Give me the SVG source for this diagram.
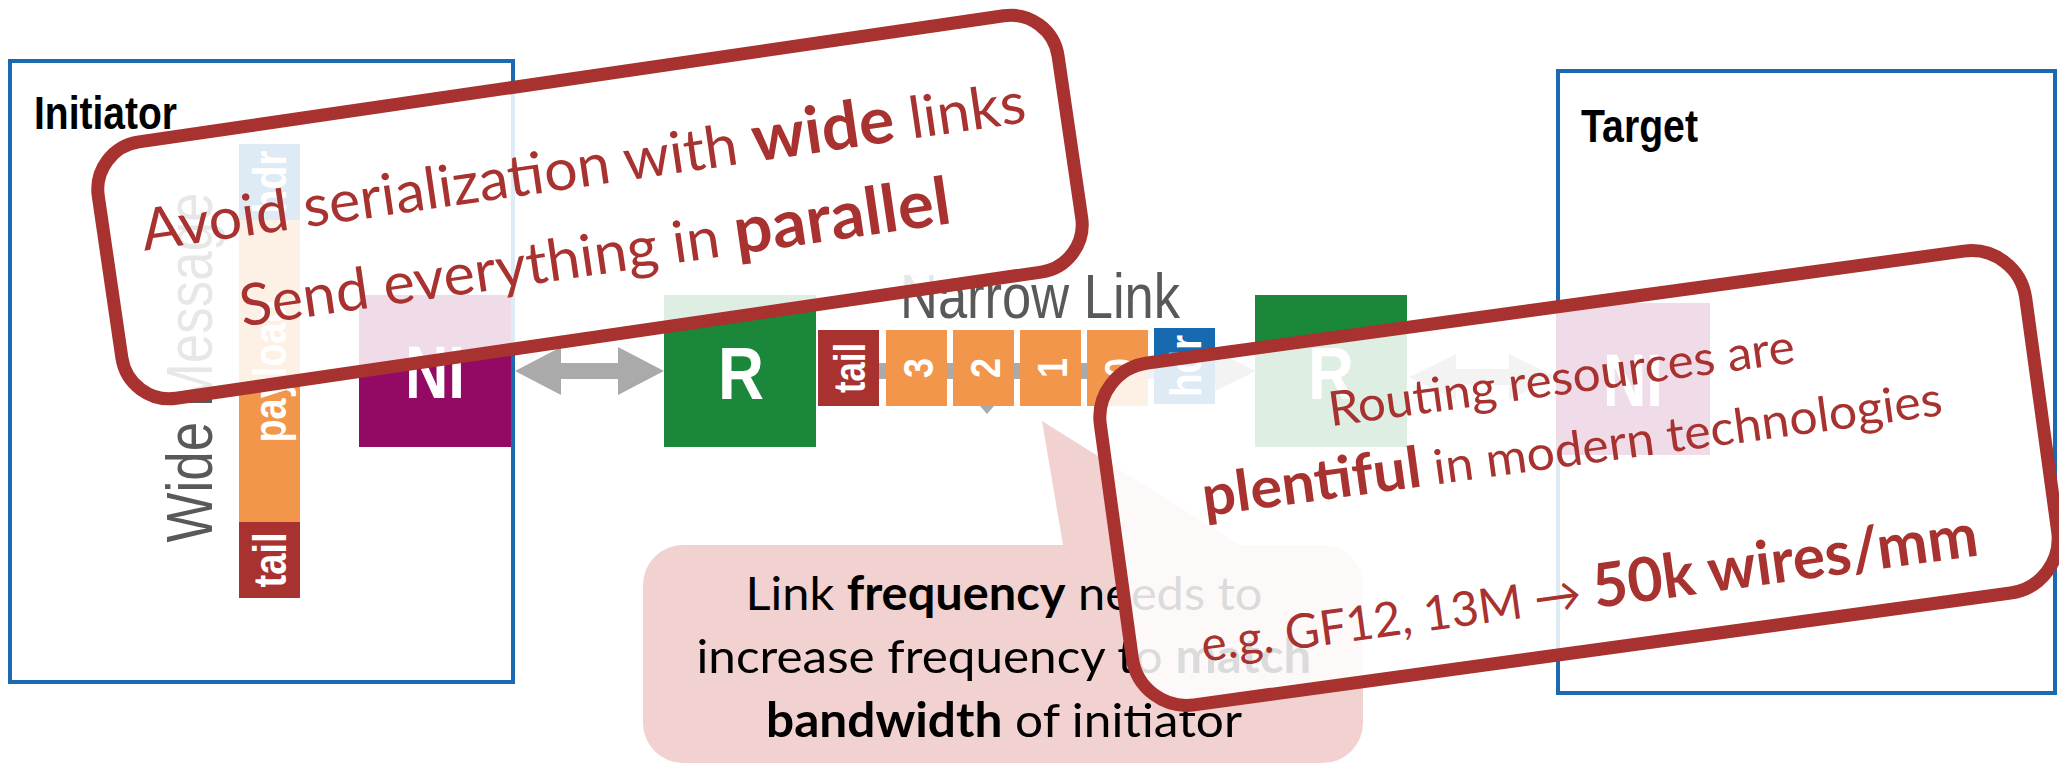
<svg xmlns="http://www.w3.org/2000/svg" width="2059" height="767" viewBox="0 0 2059 767">
  <style>
    .frame { fill: none; stroke: #1a69b1; stroke-width: 4; }
    .title { font-family: "Liberation Sans", Arial, sans-serif; font-weight: bold; font-size: 46px; fill: #000; }
    .wl { font-family: "Liberation Sans", Arial, sans-serif; font-weight: bold; fill: #fff; }
    .cap { font-family: "Liberation Sans", Arial, sans-serif; fill: #595959; }
    .link { fill: #aaaaaa; }
    .ni { fill: #920a63; }
    .rt { fill: #1a873a; }
    .hdr { fill: #1769b0; }
    .pay { fill: #f1964a; }
    .tail { fill: #a8322f; }
    .callout { fill: #ffffff; fill-opacity: 0.86; stroke: #a8322f; stroke-width: 13; }
    .ct { font-family: Lato, "Open Sans", sans-serif; fill: #a8322f; }
    .bt { font-family: Lato, "Open Sans", sans-serif; fill: #000; font-size: 47px; }
    .b { font-weight: bold; }
  </style>

  <!-- Initiator side -->
  <g id="initiator">
    <rect class="frame" x="10" y="61" width="503" height="621"/>
    <text class="title" x="34" y="129" textLength="143" lengthAdjust="spacingAndGlyphs">Initiator</text>
  </g>

  <g id="wide-message">
    <rect class="hdr" x="239" y="144" width="61" height="76"/>
    <rect class="pay" x="239" y="220" width="61" height="302"/>
    <rect class="tail" x="239" y="522" width="61" height="76"/>
    <text class="wl" font-size="46" text-anchor="middle" transform="translate(270,182) rotate(-90)" y="16" textLength="63" lengthAdjust="spacingAndGlyphs">hdr</text>
    <text class="wl" font-size="46" text-anchor="middle" transform="translate(270,371) rotate(-90)" y="16" textLength="143" lengthAdjust="spacingAndGlyphs">payload</text>
    <text class="wl" font-size="46" text-anchor="middle" transform="translate(270,560) rotate(-90)" y="16" textLength="55" lengthAdjust="spacingAndGlyphs">tail</text>
    <text class="cap" font-size="64" text-anchor="middle" transform="translate(212,367.5) rotate(-90)" textLength="350" lengthAdjust="spacingAndGlyphs">Wide Message</text>
  </g>

  <g id="ni-initiator">
    <rect class="ni" x="359" y="295" width="152" height="152"/>
    <text class="wl" x="435" y="398" font-size="74" text-anchor="middle" textLength="60" lengthAdjust="spacingAndGlyphs">NI</text>
  </g>

  <g id="router-1">
    <rect class="rt" x="664" y="295" width="152" height="152"/>
    <text class="wl" x="741" y="399" font-size="74" text-anchor="middle" textLength="46" lengthAdjust="spacingAndGlyphs">R</text>
  </g>

  <g id="router-2">
    <rect class="rt" x="1255" y="295" width="152" height="152"/>
    <text class="wl" x="1331" y="399" font-size="74" text-anchor="middle" textLength="46" lengthAdjust="spacingAndGlyphs">R</text>
  </g>

  <!-- Target side -->
  <g id="target">
    <rect class="frame" x="1558" y="71" width="497" height="622"/>
    <text class="title" x="1581" y="142" textLength="117" lengthAdjust="spacingAndGlyphs">Target</text>
  </g>

  <g id="ni-target">
    <rect class="ni" x="1556" y="303" width="154" height="152"/>
    <text class="wl" x="1633" y="406" font-size="74" text-anchor="middle" textLength="60" lengthAdjust="spacingAndGlyphs">NI</text>
  </g>

  <!-- Links -->
  <g id="connectors">
    <polygon class="link" points="515,371 561,347 561,363 618,363 618,347 664,371 618,395 618,379 561,379 561,395"/>
    <polygon class="link" points="818,371 859,351 859,363 1215,363 1215,351 1256,371 1215,391 1215,379 859,379 859,391"/>
    <polygon class="link" points="980,406 994,406 987,414"/>
    <polygon class="link" points="1409,377 1456,354 1456,369 1509,369 1509,354 1556,377 1509,400 1509,385 1456,385 1456,400"/>
  </g>

  <text class="cap" x="900" y="318" font-size="63" textLength="280" lengthAdjust="spacingAndGlyphs">Narrow Link</text>

  <!-- Serialized flits on the narrow link -->
  <g id="flits">
    <rect class="tail" x="818" y="330" width="61" height="76"/>
    <rect class="pay" x="886" y="330" width="61" height="76"/>
    <rect class="pay" x="953" y="330" width="61" height="76"/>
    <rect class="pay" x="1020" y="330" width="61" height="76"/>
    <rect class="pay" x="1087" y="330" width="61" height="76"/>
    <rect class="hdr" x="1154" y="328" width="61" height="76"/>
    <text class="wl" font-size="44" text-anchor="middle" transform="translate(849,368) rotate(-90)" y="16" textLength="50" lengthAdjust="spacingAndGlyphs">tail</text>
    <text class="wl" font-size="43" text-anchor="middle" transform="translate(917,368) rotate(-90)" y="15.5" textLength="20" lengthAdjust="spacingAndGlyphs">3</text>
    <text class="wl" font-size="43" text-anchor="middle" transform="translate(984,368) rotate(-90)" y="15.5" textLength="20" lengthAdjust="spacingAndGlyphs">2</text>
    <text class="wl" font-size="43" text-anchor="middle" transform="translate(1051,368) rotate(-90)" y="15.5" textLength="20" lengthAdjust="spacingAndGlyphs">1</text>
    <text class="wl" font-size="43" text-anchor="middle" transform="translate(1118,368) rotate(-90)" y="15.5" textLength="20" lengthAdjust="spacingAndGlyphs">0</text>
    <text class="wl" font-size="44" text-anchor="middle" transform="translate(1185,366) rotate(-90)" y="16" textLength="62" lengthAdjust="spacingAndGlyphs">hdr</text>
  </g>

  <!-- Callout: wide links -->
  <g id="callout-wide" transform="translate(590,207) rotate(-8.3)">
    <rect class="callout" x="-485" y="-129.5" width="970" height="259" rx="48"/>
    <text class="ct" x="-1" y="-21" font-size="58" text-anchor="middle" textLength="893" lengthAdjust="spacingAndGlyphs">Avoid serialization with <tspan class="b" font-size="65">wide</tspan> links</text>
    <text class="ct" x="-2" y="68" font-size="58" text-anchor="middle" textLength="718" lengthAdjust="spacingAndGlyphs">Send everything in <tspan class="b" font-size="66">parallel</tspan></text>
  </g>

  <!-- Speech bubble: link frequency -->
  <g id="bubble-frequency">
    <path d="M683,545 H1063 L1042,421 L1240,545 H1323 A40,40 0 0 1 1363,585 V723 A40,40 0 0 1 1323,763 H683 A40,40 0 0 1 643,723 V585 A40,40 0 0 1 683,545 Z" fill="#f2d1d1"/>
    <text class="bt" x="1004" y="610" text-anchor="middle" textLength="517" lengthAdjust="spacingAndGlyphs">Link <tspan class="b">frequency</tspan> needs to</text>
    <text class="bt" x="1004" y="673" text-anchor="middle" textLength="615" lengthAdjust="spacingAndGlyphs">increase frequency to <tspan class="b">match</tspan></text>
    <text class="bt" x="1004" y="737" text-anchor="middle" textLength="476" lengthAdjust="spacingAndGlyphs"><tspan class="b">bandwidth</tspan> of initiator</text>
  </g>

  <!-- Callout: routing resources -->
  <g id="callout-routing" transform="translate(1579,478) rotate(-7.8)">
    <rect class="callout" x="-467" y="-172.5" width="934" height="345" rx="55"/>
    <text class="ct" x="-4" y="-85" font-size="48" text-anchor="middle" textLength="470" lengthAdjust="spacingAndGlyphs">Routing resources are</text>
    <text class="ct" x="-3" y="-13" font-size="48" text-anchor="middle" textLength="746" lengthAdjust="spacingAndGlyphs"><tspan class="b" font-size="57">plentiful</tspan> in modern technologies</text>
    <text class="ct" x="-5" y="131" font-size="48" text-anchor="middle" textLength="784" lengthAdjust="spacingAndGlyphs">e.g. GF12, 13M → <tspan class="b" font-size="61">50k wires/mm</tspan></text>
  </g>
</svg>
